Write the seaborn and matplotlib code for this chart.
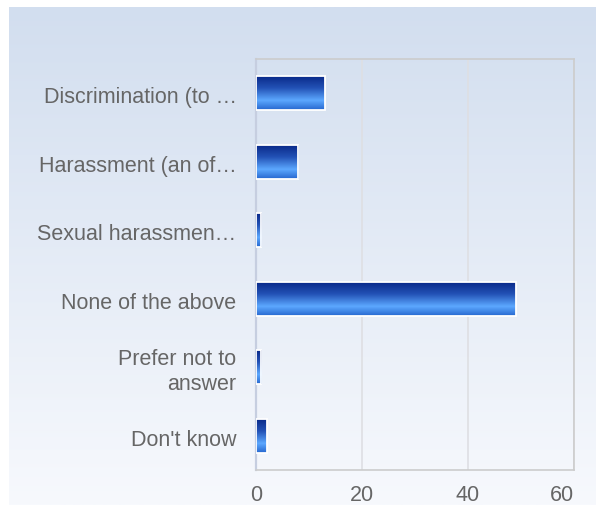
import numpy as np
import pandas as pd
import matplotlib
matplotlib.use("Agg")
import matplotlib.pyplot as plt
import matplotlib.transforms as mtransforms
from matplotlib.colors import LinearSegmentedColormap
import seaborn as sns

# survey answers (labels as shown, truncated like the original)
answers = ["Discrimination (to \u2026", "Harassment (an of\u2026", "Sexual harassmen\u2026",
           "None of the above", "Prefer not to\nanswer", "Don't know"]
counts = [13, 8, 1, 49, 1, 2]
x_ticks = [0, 20, 40, 60]

df = pd.DataFrame({"answer": answers, "count": counts})

sns.set_style("white")
plt.rcParams["font.family"] = ["Liberation Sans", "DejaVu Sans"]

fig = plt.figure(figsize=(5.96, 5.05), dpi=100, facecolor="white")

# light blue background panel, fading downwards
bg = fig.add_axes([9 / 596, 0, 1 - 9 / 596, 1 - 7 / 505], zorder=-1)
bg_cmap = LinearSegmentedColormap.from_list("bg", ["#d2deef", "#f7f9fd"])
bg.imshow(np.linspace(0, 1, 256).reshape(-1, 1), aspect="auto", cmap=bg_cmap,
          extent=[0, 1, 0, 1], origin="upper")
bg.axis("off")

ax = fig.add_axes([256 / 596, 1 - 470 / 505, (574 - 256) / 596, (470 - 59) / 505])
ax.set_facecolor("none")

sns.barplot(data=df, x="count", y="answer", orient="h", width=0.49,
            color="#2a5fc8", ax=ax, zorder=3)

# glossy vertical gradient inside each bar
bar_cmap = LinearSegmentedColormap.from_list(
    "bar", [(0, "#0a2a8a"), (0.35, "#2352b6"), (0.72, "#5ca8ff"), (1, "#2768cf")])
grad = np.linspace(0, 1, 64).reshape(-1, 1)
for p in ax.patches:
    x0, y0 = p.get_x(), p.get_y()
    w, h = p.get_width(), p.get_height()
    im = ax.imshow(grad, cmap=bar_cmap, aspect="auto", origin="upper",
                   extent=[x0, x0 + w, y0 + h, y0], zorder=3)
    im.set_clip_path(p)
    p.set_facecolor("none")
    p.set_edgecolor("white")
    p.set_linewidth(1.3)
    p.set_zorder(4)

ax.set_xlim(0, 60)
ax.set_ylim(len(answers) - 0.5, -0.5)
ax.set_xticks(x_ticks)
ax.set_xlabel("")
ax.set_ylabel("")
ax.grid(axis="x", color="#dedfe3", linewidth=1.2, zorder=0)
ax.set_axisbelow(True)

for side in ["top", "right", "bottom"]:
    ax.spines[side].set_color("#cccccc")
    ax.spines[side].set_linewidth(1.2)
ax.spines["left"].set_color("#c6cee0")
ax.spines["left"].set_linewidth(1.6)

ax.tick_params(axis="y", length=0, pad=14, labelsize=15.5, labelcolor="#666666")
ax.tick_params(axis="x", length=0, pad=11, labelsize=15.5, labelcolor="#666666")

# nudge the single-line category labels down a little
shift = mtransforms.ScaledTranslation(0, -2 / 100, fig.dpi_scale_trans)
for lab in ax.get_yticklabels():
    lab.set_horizontalalignment("right")
    lab.set_multialignment("right")
    lab.set_linespacing(1.25)
    if "\n" not in lab.get_text():
        lab.set_transform(lab.get_transform() + shift)

# last x label sits inside the frame
ax.get_xticklabels()[-1].set_horizontalalignment("right")

fig.savefig("out.png", dpi=100, facecolor="white")
